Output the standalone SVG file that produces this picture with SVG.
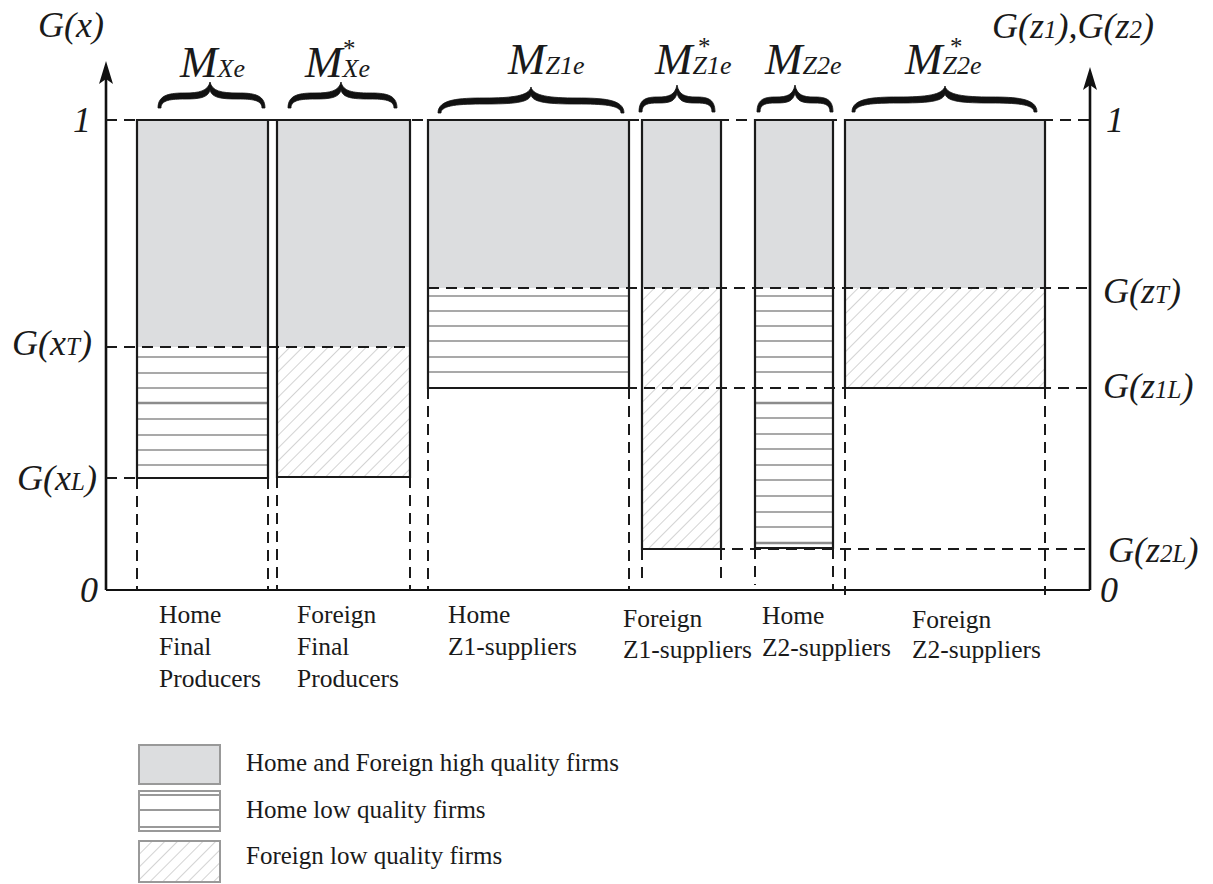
<svg xmlns="http://www.w3.org/2000/svg" width="1213" height="884" viewBox="0 0 1213 884">
<style>
.t{font-family:"Liberation Serif","Times New Roman","DejaVu Serif",serif;fill:#1a1a1a}
.i{font-style:italic}
.ax{font-size:36px}
.sm{font-size:25px}
.m{font-size:45px}
.ms{font-size:26px}
.st{font-size:25px;font-style:normal}
.cat{font-size:25.5px}
.leg{font-size:25px}
.dash{stroke:#1a1a1a;stroke-width:2;stroke-dasharray:11 7;fill:none}
.solid{stroke:#1a1a1a;stroke-width:2.2;fill:none}
.hi{fill:#dcdddf}
.hl{stroke:#8c8c8c;stroke-width:1.6}
.brace{fill:#111;stroke:#111;stroke-width:0.8;stroke-linejoin:round}
.arrow{fill:#111}
</style>
<defs>
<pattern id="diag" patternUnits="userSpaceOnUse" width="9" height="9" patternTransform="rotate(45)">
<line x1="0" y1="0" x2="0" y2="9" stroke="#a8a8a8" stroke-width="1"/>
</pattern>
</defs>
<rect width="1213" height="884" fill="#fff"/>

<!-- axes -->
<g id="axes">
<line x1="106" y1="590" x2="106" y2="78" stroke="#111" stroke-width="2.6"/>
<path class="arrow" d="M106,61 L113,84 L106,79 L99,84 Z"/>
<line x1="1090" y1="590" x2="1090" y2="84" stroke="#111" stroke-width="2.6"/>
<path class="arrow" d="M1090,67 L1097,90 L1090,85 L1083,90 Z"/>
<line x1="106" y1="590" x2="1090" y2="590" stroke="#111" stroke-width="2.2"/>
<text class="t i ax" x="38" y="37">G(x)</text>
<text class="t i ax" x="992" y="38">G(z<tspan class="sm">1</tspan>),G(z<tspan class="sm">2</tspan>)</text>
<text class="t i ax" x="73" y="132">1</text>
<text class="t i ax" x="1106" y="132">1</text>
<text class="t i ax" x="80" y="602">0</text>
<text class="t i ax" x="1100" y="602">0</text>
<text class="t i ax" x="12" y="355">G(x<tspan class="sm">T</tspan>)</text>
<text class="t i ax" x="17" y="490">G(x<tspan class="sm">L</tspan>)</text>
<text class="t i ax" x="1103" y="303">G(z<tspan class="sm">T</tspan>)</text>
<text class="t i ax" x="1103" y="398">G(z<tspan class="sm">1L</tspan>)</text>
<text class="t i ax" x="1108" y="562">G(z<tspan class="sm">2L</tspan>)</text>
</g>

<!-- Home final producers -->
<g id="home-final">
<rect class="hi" x="137" y="120" width="131" height="227"/>
<g class="hl">
<line x1="137" y1="357" x2="268" y2="357"/><line x1="137" y1="373" x2="268" y2="373"/>
<line x1="137" y1="388" x2="268" y2="388"/><line x1="137" y1="403" x2="268" y2="403" stroke-width="2.4"/>
<line x1="137" y1="419" x2="268" y2="419"/><line x1="137" y1="435" x2="268" y2="435"/>
<line x1="137" y1="450" x2="268" y2="450"/><line x1="137" y1="465" x2="268" y2="465"/>
</g>
<path class="solid" d="M137,478 V120 H268 V478 Z"/>
<path class="brace" d="M158,108 C158,94 171,93 185,93 C199,93 208,91 210,82 C212,91 221,93 238,93 C252,93 265,94 265,108 L262,108 C262,100 252,99 238,99 C221,99 212,98 210,90 C208,98 199,99 185,99 C171,99 161,100 161,108 Z"/>
<text class="t i m" x="180" y="77">M<tspan class="ms">Xe</tspan></text>
<text class="t cat" x="159" y="623">Home</text>
<text class="t cat" x="159" y="655">Final</text>
<text class="t cat" x="159" y="687">Producers</text>
</g>

<!-- Foreign final producers -->
<g id="foreign-final">
<rect class="hi" x="277" y="120" width="133" height="227"/>
<rect x="277" y="347" width="133" height="130" fill="url(#diag)"/>
<path class="solid" d="M277,477 V120 H410 V477 Z"/>
<path class="brace" d="M288,108 C288,94 301,93 315,93 C330,93 339,91 341,82 C343,91 352,93 370,93 C384,93 397,94 397,108 L394,108 C394,100 384,99 370,99 C352,99 343,98 341,90 C339,98 330,99 315,99 C301,99 291,100 291,108 Z"/>
<text class="t i m" x="305" y="77">M<tspan class="ms">Xe</tspan><tspan class="st" x="343" y="57">*</tspan></text>
<text class="t cat" x="297" y="623">Foreign</text>
<text class="t cat" x="297" y="655">Final</text>
<text class="t cat" x="297" y="687">Producers</text>
</g>

<!-- Home Z1 suppliers -->
<g id="home-z1">
<rect class="hi" x="428" y="120" width="201" height="168"/>
<g class="hl">
<line x1="428" y1="296" x2="629" y2="296"/><line x1="428" y1="311" x2="629" y2="311"/>
<line x1="428" y1="326" x2="629" y2="326"/><line x1="428" y1="341" x2="629" y2="341"/>
<line x1="428" y1="357" x2="629" y2="357"/><line x1="428" y1="372" x2="629" y2="372"/>
</g>
<path class="solid" d="M428,388 V120 H629 V388 Z"/>
<path class="brace" d="M438,113 C438,99 460,98 484,98 C512,98 529,96 531,87 C533,96 550,98 577,98 C602,98 624,99 624,113 L621,113 C621,105 602,104 577,104 C550,104 533,103 531,95 C529,103 512,104 484,104 C460,104 441,105 441,113 Z"/>
<text class="t i m" x="508" y="74">M<tspan class="ms">Z1e</tspan></text>
<text class="t cat" x="448" y="623">Home</text>
<text class="t cat" x="448" y="655">Z1-suppliers</text>
</g>

<!-- Foreign Z1 suppliers -->
<g id="foreign-z1">
<rect class="hi" x="642" y="120" width="79" height="168"/>
<rect x="642" y="288" width="79" height="261" fill="url(#diag)"/>
<path class="solid" d="M642,549 V120 H721 V549 Z"/>
<path class="brace" d="M639,112 C639,98 648,97 658,97 C669,97 675,95 677,85 C679,95 685,97 696,97 C706,97 715,98 715,112 L712,112 C712,104 706,103 696,103 C685,103 679,102 677,93 C675,102 669,103 658,103 C648,103 642,104 642,112 Z"/>
<text class="t i m" x="655" y="74">M<tspan class="ms">Z1e</tspan><tspan class="st" x="698" y="55">*</tspan></text>
<text class="t cat" x="623" y="627">Foreign</text>
<text class="t cat" x="623" y="658">Z1-suppliers</text>
</g>

<!-- Home Z2 suppliers -->
<g id="home-z2">
<rect class="hi" x="755" y="120" width="78" height="168"/>
<g class="hl">
<line x1="755" y1="296" x2="833" y2="296"/><line x1="755" y1="311" x2="833" y2="311"/>
<line x1="755" y1="326" x2="833" y2="326"/><line x1="755" y1="341" x2="833" y2="341"/>
<line x1="755" y1="357" x2="833" y2="357"/><line x1="755" y1="372" x2="833" y2="372"/>
<line x1="755" y1="403" x2="833" y2="403" stroke-width="2.4"/><line x1="755" y1="418" x2="833" y2="418"/>
<line x1="755" y1="434" x2="833" y2="434"/><line x1="755" y1="449" x2="833" y2="449"/>
<line x1="755" y1="465" x2="833" y2="465"/><line x1="755" y1="480" x2="833" y2="480"/>
<line x1="755" y1="496" x2="833" y2="496"/><line x1="755" y1="512" x2="833" y2="512"/>
<line x1="755" y1="527" x2="833" y2="527"/><line x1="755" y1="543" x2="833" y2="543" stroke-width="2.4"/>
</g>
<path class="solid" d="M755,548 V120 H833 V548 Z"/>
<path class="brace" d="M757,112 C757,98 766,97 776,97 C787,97 793,95 795,85 C797,95 803,97 814,97 C824,97 833,98 833,112 L830,112 C830,104 824,103 814,103 C803,103 797,102 795,93 C793,102 787,103 776,103 C766,103 760,104 760,112 Z"/>
<text class="t i m" x="765" y="74">M<tspan class="ms">Z2e</tspan></text>
<text class="t cat" x="762" y="624">Home</text>
<text class="t cat" x="762" y="656">Z2-suppliers</text>
</g>

<!-- Foreign Z2 suppliers -->
<g id="foreign-z2">
<rect class="hi" x="845" y="120" width="200" height="168"/>
<rect x="845" y="288" width="200" height="100" fill="url(#diag)"/>
<path class="solid" d="M845,388 V120 H1045 V388 Z"/>
<path class="brace" d="M852,112 C852,98 874,97 898,97 C926,97 943,95 945,86 C947,95 964,97 991,97 C1015,97 1037,98 1037,112 L1034,112 C1034,104 1015,103 991,103 C964,103 947,102 945,94 C943,102 926,103 898,103 C874,103 855,104 855,112 Z"/>
<text class="t i m" x="905" y="74">M<tspan class="ms">Z2e</tspan><tspan class="st" x="950" y="55">*</tspan></text>
<text class="t cat" x="912" y="628">Foreign</text>
<text class="t cat" x="912" y="658">Z2-suppliers</text>
</g>

<!-- connectors: dashed guide lines -->
<g id="connectors" class="dash">
<line x1="106" y1="120" x2="1090" y2="120"/>
<line x1="106" y1="347" x2="410" y2="347"/>
<line x1="106" y1="478" x2="137" y2="478"/>
<line x1="428" y1="288" x2="1090" y2="288"/>
<line x1="428" y1="388" x2="1090" y2="388"/>
<line x1="642" y1="549" x2="1090" y2="549"/>
<line x1="137" y1="478" x2="137" y2="590"/>
<line x1="268" y1="478" x2="268" y2="590"/>
<line x1="277" y1="477" x2="277" y2="590"/>
<line x1="410" y1="477" x2="410" y2="590"/>
<line x1="428" y1="388" x2="428" y2="590"/>
<line x1="629" y1="388" x2="629" y2="590"/>
<line x1="642" y1="549" x2="642" y2="580"/>
<line x1="721" y1="549" x2="721" y2="580"/>
<line x1="755" y1="548" x2="755" y2="585"/>
<line x1="833" y1="548" x2="833" y2="590"/>
<line x1="845" y1="388" x2="845" y2="595"/>
<line x1="1045" y1="388" x2="1045" y2="595"/>
</g>

<!-- legend -->
<g id="legend">
<rect x="139" y="745" width="81" height="39" fill="#dcdddf" stroke="#999" stroke-width="2"/>
<rect x="139" y="791" width="81" height="40" fill="#fff" stroke="#999" stroke-width="2"/>
<line x1="139" y1="795" x2="220" y2="795" stroke="#999" stroke-width="1.8"/>
<line x1="139" y1="810" x2="220" y2="810" stroke="#999" stroke-width="1.8"/>
<line x1="139" y1="827" x2="220" y2="827" stroke="#999" stroke-width="1.8"/>
<rect x="139" y="841" width="81" height="41" fill="url(#diag)" stroke="#999" stroke-width="2"/>
<text class="t leg" x="246" y="771">Home and Foreign high quality firms</text>
<text class="t leg" x="246" y="818">Home low quality firms</text>
<text class="t leg" x="246" y="864">Foreign low quality firms</text>
</g>
</svg>
